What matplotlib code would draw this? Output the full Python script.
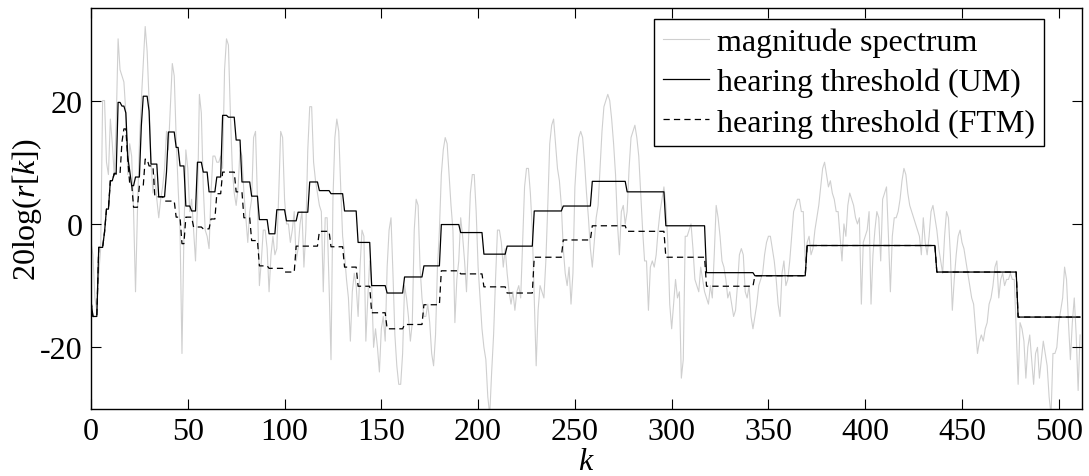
import numpy as np
import matplotlib
matplotlib.use("Agg")
import matplotlib.pyplot as plt

# ---------------- data ----------------
spectrum_db = [
    -3, -5, -12, -14, -8, -4, 20, 20, 10, 8, 17, 13, 8, 16, 30, 25, 24, 23, 18, 8,
    13, 11, 2, -11, 2, 13, 20, 26, 32, 28, 20, 10, 5, 8, 4, 1, 4, 6, 9, 15,
    12, 19, 26, 24, 14, 6, -1, -21, -2, 12, 9, 2, 4, -1, -6, 3, 21, 18, 6, -1,
    -2, -4, 5, 11, 11, 10, 10, 11, 9, 25, 30, 29, 18, 9, 5, 3, 6, 12, 11, 5,
    1, -3, 2, 4, 14, 15, 4, -10, -6, -1, -1, -4, -11, -5, -2, -5, -4, 5, 15, 14,
    4, 0, 0, -3, -1, 2, -6, -4, 0, 2, -7, -1, 12, 19, 19, 10, 7, 5, 3, 2,
    -11, 1, 1, -10, -22, 4, 14, 17, 15, 6, -2, -5, -9, -12, -19, -11, -8, -10, -15, -7,
    -1, -2, -19, -12, -6, -10, -20, -17, -20, -24, -17, -15, -19, -7, -1, 1, -8, -18, -23, -26,
    -26, -21, -10, -12, -15, -19, -16, -1, 4, 3, -7, -12, -15, -15, -13, -16, -21, -23, -18, -7,
    -1, 8, 12, 14, 13, 8, 3, -1, -16, -9, -6, 1, -2, -6, -11, -3, 5, 8, 8, 2,
    -7, -12, -17, -20, -22, -28, -31, -24, -18, -9, -1, -1, -3, -7, -4, -8, -11, -13, -11, -14,
    -11, -10, -12, -3, 6, 9, 9, 5, -1, -12, -23, -14, -10, -11, -12, -6, 3, 13, 16, 17,
    13, 9, 7, 3, -4, -8, -10, -7, -13, -8, 6, 11, 14, 15, 14, 10, 5, 1, -4, -7,
    -3, 1, 3, 9, 15, 19, 20, 21, 20, 17, 13, 8, 0, -5, 2, 3, 0, 2, 9, 14,
    15, 16, 14, 11, 5, -1, -6, -6, -14, -7, -6, -7, -5, -1, 2, 4, 6, 3, -3, -13,
    -17, -13, -9, -12, -11, -25, -22, -2, -2, -1, 0, -4, -9, -10, -11, -7, -9, -11, -12, -13,
    -10, -12, -5, 3, 1, -2, -6, -7, -9, -12, -11, -13, -15, -14, -10, -5, -4, -5, -11, -12,
    -10, -15, -17, -15, -13, -10, -9, -8, -5, -3, -2, -2, -4, -6, -9, -13, -15, -8, -6, -10,
    -9, -6, -2, 2, 3, 4, 4, 2, 2, -6, -3, -2, -5, -4, -1, 1, 3, 6, 9, 10,
    8, 6, 7, 5, 4, 2, 2, -2, -6, 0, -2, 3, 5, 4, 3, 1, 0, 1, -13, -3,
    -2, -1, 2, -13, -5, -1, 2, 1, -6, 4, 5, 6, -2, -11, -2, 1, 1, 2, 4, 7,
    9, 8, 5, 3, 2, 1, 0, -1, -2, -5, 1, -3, -5, -2, 2, 3, 1, -1, -4, -6,
    -8, -2, 2, 1, -5, -14, -9, -5, -2, -1, -3, -4, -6, -8, -10, -12, -13, -17, -21, -19,
    -18, -19, -17, -16, -13, -12, -10, -7, -6, -12, -9, -8, -10, -9, -9, -8, -9, -9, -17, -26,
    -16, -17, -19, -25, -20, -18, -22, -26, -21, -20, -25, -22, -19, -21, -23, -28, -31, -21, -21, -20,
    -16, -14, -12, -7, -9, -16, -22, -16, -12, -18, -27, -18,
]

um_starts = [0, 1, 4, 7, 8, 10, 12, 14, 16, 18, 19, 20, 21, 23, 26, 27, 30, 31, 35, 39,
             40, 44, 46, 49, 52, 55, 58, 61, 65, 68, 71, 75, 78, 83, 87, 92, 96, 101, 107, 113,
             118, 124, 131, 138, 145, 153, 162, 172, 181, 191, 203, 215, 229, 244, 259, 277, 297, 318, 343, 370,
             437, 479]
um_levels = [-12.5, -15, -3.8, -1.3, 2.4, 7, 8.2, 19.7, 19.1, 18, 10.8, 8.6, 6.2, 7.6, 15.9, 20.7, 18.3, 9.7, 4.4, 8.4,
             14.9, 12.4, 9.4, 2.9, 2.1, 10, 8.4, 5.2, 7.6, 17.6, 17.3, 13.6, 6.8, 4.5, 0.7, -1.6, 2.3, 0.5, 1.9, 6.8,
             5.4, 4.9, 2.1, -3, -10, -11.2, -8.6, -6.8, -0.1, -1.4, -4.9, -3.6, 2.1, 2.9, 6.9, 5.2, -0.3, -7.9, -8.4, -3.5,
             -7.8, -15.1]

ftm_starts = [0, 1, 4, 7, 8, 10, 12, 16, 17, 19, 20, 22, 25, 28, 30, 33, 38, 44, 47, 49,
              53, 58, 62, 65, 68, 75, 79, 83, 87, 92, 100, 106, 118, 124, 131, 138, 145, 153, 162, 172,
              181, 191, 203, 215, 229, 244, 259, 277, 297, 318, 343, 370, 437, 479]
ftm_levels = [-12.5, -15, -3.8, -1.3, 2.4, 7, 8.1, 13.3, 15.4, 10.5, 6.5, 2.7, 6.2, 10.5, 9.4, 4.4, 3.7, 1.1, -3.2, 1.1,
              -0.5, -0.8, 0.8, 4.9, 8.4, 5.2, 1.0, -2.7, -6.8, -7.2, -7.8, -3.6, -1.2, -3.7, -7, -10.1, -14.4, -17, -16.3, -13.1,
              -7.6, -8.1, -10.2, -11.2, -5.4, -2.6, -0.3, -1.2, -5.4, -10.1, -8.4, -3.5, -7.8, -15.1]

labels = ["magnitude spectrum", "hearing threshold (UM)", "hearing threshold (FTM)"]
x_ticks = [0, 50, 100, 150, 200, 250, 300, 350, 400, 450, 500]
y_ticks = [-20, 0, 20]

# ---------------- style ----------------
plt.rcParams['font.family'] = ['Liberation Serif', 'DejaVu Serif']
plt.rcParams['mathtext.fontset'] = 'custom'
plt.rcParams['mathtext.rm'] = 'Liberation Serif'
plt.rcParams['mathtext.it'] = 'Liberation Serif:italic'
plt.rcParams['lines.scale_dashes'] = False
plt.rcParams['axes.unicode_minus'] = False

N = len(spectrum_db)
k = np.arange(N)


def expand(starts, levels, n):
    bounds = list(starts[1:]) + [n]
    counts = [b - s for s, b in zip(starts, bounds)]
    return np.repeat(levels, counts)


um = expand(um_starts, um_levels, N)
ftm = expand(ftm_starts, ftm_levels, N)

fig = plt.figure(figsize=(10.89, 4.77), dpi=100)
ax = fig.add_axes([91 / 1089, 1 - 410 / 477, (1082 - 91) / 1089, (410 - 9) / 477])

ax.plot(k, spectrum_db, color='#cfcfcf', lw=0.8, label=labels[0], zorder=1)
ax.plot(k, um, color='black', lw=0.9, label=labels[1], zorder=3)
ax.plot(k, ftm, color='black', lw=0.9, dashes=(4.5, 3), label=labels[2], zorder=2)

ax.set_xlim(0, 512)
ax.set_ylim(-30, 35)
ax.set_xticks(x_ticks)
ax.set_yticks(y_ticks)
ax.tick_params(direction='in', length=7, width=0.8, labelsize=23, top=True, right=True, pad=6)
for s in ax.spines.values():
    s.set_linewidth(1.0)

ax.set_xlabel(r'$k$', fontsize=23)
ax.xaxis.set_label_coords(0.5, -(448 - 410) / 401)
ax.xaxis.label.set_va('top')
ax.set_ylabel(r'20log($r$[$k$])', fontsize=23)
ax.yaxis.set_label_coords((44 - 91) / 991, 0.5)

leg = ax.legend(loc='upper right', bbox_to_anchor=((1044 - 91) / 991, (410 - 20) / 401),
                borderaxespad=0, fontsize=23, frameon=True, fancybox=False,
                edgecolor='black', framealpha=1, handlelength=1.45, handletextpad=0.25,
                borderpad=0.28, labelspacing=0.33)
leg.get_frame().set_linewidth(1.0)

fig.savefig('out.png', dpi=100)
